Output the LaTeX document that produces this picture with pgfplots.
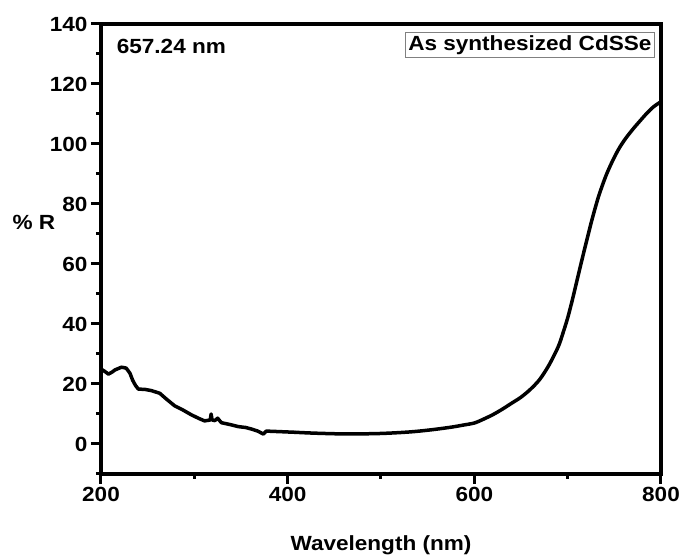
\documentclass[border=0pt]{standalone}
\usepackage{fontspec}
\setmainfont{Liberation Sans}[FakeStretch=1.1]
\usepackage{pgfplots}
\pgfplotsset{compat=1.18}
\pgfplotstableread{
x y
200 25.0
204 24.2
208 23.3
212 24.0
215 24.7
222 25.6
227 25.3
231 23.6
234 21.2
237 19.5
240 18.3
247 18.2
254 17.8
263 16.9
270 15.0
279 12.7
288 11.3
297 9.7
305 8.5
311 7.7
315 7.9
317 8.0
318 10.0
319 8.0
322 7.8
325 8.6
326 8.2
329 7.1
338 6.5
347 5.8
355 5.5
361 5.0
368 4.3
374 3.3
377 4.3
385 4.2
393 4.1
408 3.9
}\lefttable
\pgfplotstableread{
x y
408 3.9
430 3.6
463 3.35
499 3.5
530 4.0
553 4.7
575 5.6
588 6.3
600 7.0
610 8.3
620 9.8
630 11.6
640 13.6
650 15.6
660 18.2
670 21.5
680 26.3
690 32.5
695 37.0
700 42.0
705 48.0
710 54.5
715 61.0
720 67.3
726 74.7
733 82.4
740 88.6
745 92.3
751 96.2
756 99.0
762 101.8
769 104.6
775 106.8
785 110.3
792 112.4
800 114.1
}\righttable
\begin{document}
\begin{tikzpicture}
\path[use as bounding box] (-101pt,-82pt) rectangle (580pt,474pt);
\begin{axis}[
  scale only axis,
  width=560pt, height=450pt,
  xmin=200, xmax=800, ymin=-10, ymax=140,
  xtick={200,400,600,800},
  minor xtick={300,500,700},
  ytick={0,20,...,140},
  minor ytick={-10,10,30,...,130},
  xtick pos=bottom, ytick pos=left,
  tick align=outside,
  major tick length=10pt,
  minor tick length=5pt,
  every tick/.style={black, line width=3pt},
  axis line style={line width=3.5pt},
  font=\fontsize{20.5}{24}\selectfont\bfseries,
  /pgf/number format/assume math mode=true,
  tick label style={font=\fontsize{20.5}{24}\selectfont\bfseries},
  xlabel={Wavelength (nm)},
  ylabel={\% R},
  every axis x label/.style={at={(axis description cs:0.5,-0.158)}, anchor=center},
  every axis y label/.style={at={(axis description cs:-0.12,0.558)}, anchor=center},
  clip=false,
]
\addplot[black, line width=3.5pt, line join=round, line cap=round, no markers] table[x=x,y=y] {\lefttable};
\addplot[black, line width=3.5pt, line join=round, line cap=round, no markers, smooth, tension=0.5] table[x=x,y=y] {\righttable};
\node[anchor=west, font=\fontsize{20.5}{24}\selectfont\bfseries] at (rel axis cs:0.022,0.95) {657.24 nm};
\node[anchor=north east, draw=gray, line width=0.8pt, inner xsep=3pt, inner ysep=3pt, font=\fontsize{20.5}{24}\selectfont\bfseries] at (rel axis cs:0.989,0.982) {As synthesized CdSSe};
\end{axis}
\end{tikzpicture}
\end{document}
